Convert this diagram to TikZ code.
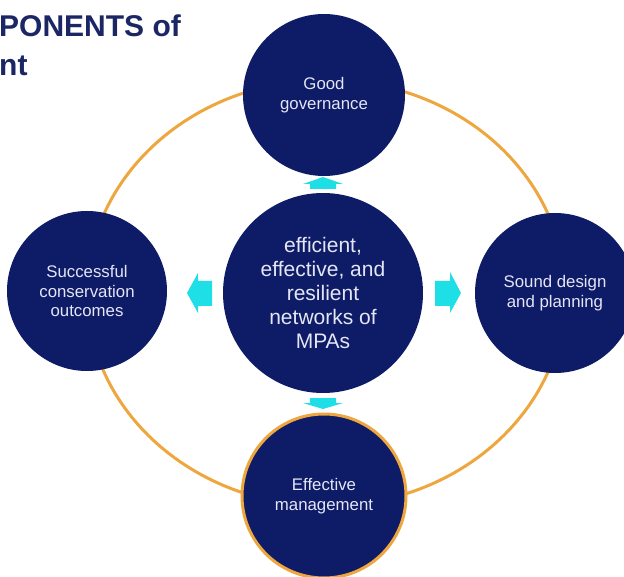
\documentclass[tikz,border=0pt]{standalone}
\usepackage{fontspec}
\setmainfont{Liberation Sans}
\definecolor{navy}{RGB}{14,27,102}
\definecolor{titleblue}{RGB}{27,38,100}
\definecolor{ringorange}{RGB}{238,166,62}
\definecolor{arrowcyan}{RGB}{30,222,230}
\definecolor{softwhite}{RGB}{228,230,245}
\tikzset{
  hub/.style={circle, fill=navy, text=softwhite, align=center, inner sep=0pt},
  smalltext/.style={font=\fontsize{16.8}{19.5}\selectfont},
  push/.style={fill=arrowcyan}
}

\begin{document}
\begin{tikzpicture}[x=1pt,y=-1pt]
\useasboundingbox (0,0) rectangle (624,577);
\clip (0,0) rectangle (624,577);
% ring behind the circles
\draw[ringorange, line width=3pt] (326,293) ellipse [x radius=239pt, y radius=213pt];
% circles
\node[hub, minimum size=200pt, font=\fontsize{21}{24}\selectfont] (mpa) at (323,293) {efficient,\\effective, and\\resilient\\networks of\\MPAs};
\node[hub, smalltext, minimum size=162pt] (gov) at (324,95) {Good\\governance};
\node[hub, smalltext, minimum size=160pt] (design) at (555,293) {Sound design\\and planning};
\node[hub, smalltext, minimum size=160pt] (outcome) at (87,291) {Successful\\conservation\\outcomes};
\node[hub, smalltext, minimum size=164pt, draw=ringorange, line width=3pt] (manage) at (324,496) {Effective\\management};
% arrows
\fill[push] (310,189) -- (310,184) -- (303,184) -- (323,177) -- (343,184) -- (336,184) -- (336,189) -- cycle;
\fill[push] (310,398) -- (310,403) -- (303,403) -- (323,409) -- (343,403) -- (336,403) -- (336,398) -- cycle;
\fill[push] (212,281) -- (198,281) -- (198,273) -- (187,293) -- (198,313) -- (198,306) -- (212,306) -- cycle;
\fill[push] (435,281) -- (450,281) -- (450,272) -- (461,293) -- (450,313) -- (450,306) -- (435,306) -- cycle;
% title, cut off at the left
\node[anchor=north west, inner sep=0pt, align=left, text=titleblue, font=\bfseries\fontsize{30}{39}\selectfont] (title) at (-1,15) {PONENTS of\\nt};
\end{tikzpicture}
\end{document}
